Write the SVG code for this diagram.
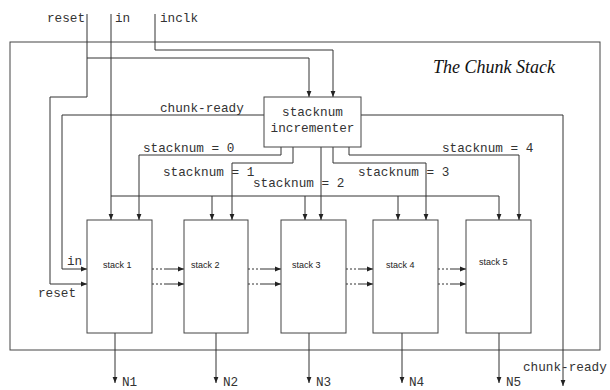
<svg xmlns="http://www.w3.org/2000/svg" width="610" height="390" viewBox="0 0 610 390">
<style>
.w{fill:none;stroke:#333;stroke-width:1}
.a{fill:none;stroke:#333;stroke-width:1;marker-end:url(#ah)}
.d{fill:none;stroke:#333;stroke-width:1;stroke-dasharray:2 2}
.box{fill:#fff;stroke:#444;stroke-width:1}
.m{font-family:"Liberation Mono",monospace;font-size:12.7px;fill:#333}
.s{font-family:"Liberation Sans",Arial,sans-serif;font-size:9px;fill:#222}
.t{font-family:"Liberation Serif",serif;font-style:italic;font-size:18px;fill:#111}
</style>
<defs>
<marker id="ah" markerUnits="userSpaceOnUse" markerWidth="6" markerHeight="6" viewBox="0 0 6 6" refX="6" refY="3" orient="auto">
<path d="M0,0.6 L6,3 L0,5.4 Z" fill="#222"/>
</marker>
</defs>
<rect width="610" height="390" fill="#fff"/>
<g id="frame">
<rect x="10" y="42" width="590" height="308" class="box"/>
<text x="433" y="73" class="t">The Chunk Stack</text>
</g>
<g id="connectors">
<path class="w" d="M87,14 V97 H50 V284"/>
<path class="a" d="M50,284 H87"/>
<path class="a" d="M87,58 H309 V97"/>
<path class="a" d="M155,14 V50 H333 V97"/>
<path class="a" d="M111,14 V220"/>
<path class="w" d="M111,196 H499"/>
<path class="a" d="M212,196 V220"/>
<path class="a" d="M305,196 V220"/>
<path class="a" d="M398,196 V220"/>
<path class="a" d="M499,196 V220"/>
<path class="a" d="M264,115 H62 V269 H87"/>
<path class="a" d="M361,115 H563 V386"/>
<path class="a" d="M281,147 V155 H139 V220"/>
<path class="a" d="M293,147 V163 H232 V220"/>
<path class="a" d="M321,147 V220"/>
<path class="a" d="M333,147 V163 H426 V220"/>
<path class="a" d="M349,147 V155 H519 V220"/>
<path class="d" d="M152,269 H166 M152,284 H166 M248,269 H262 M248,284 H262 M346,269 H360 M346,284 H360 M438,269 H452 M438,284 H452"/>
<path class="a" d="M166,269 H184"/>
<path class="a" d="M166,284 H184"/>
<path class="a" d="M262,269 H281"/>
<path class="a" d="M262,284 H281"/>
<path class="a" d="M360,269 H373"/>
<path class="a" d="M360,284 H373"/>
<path class="a" d="M452,269 H466"/>
<path class="a" d="M452,284 H466"/>
<path class="a" d="M115,333 V383"/>
<path class="a" d="M216,333 V383"/>
<path class="a" d="M309,333 V383"/>
<path class="a" d="M402,333 V383"/>
<path class="a" d="M499,333 V383"/>
</g>
<g id="labels">
<text x="47" y="22" class="m">reset</text>
<text x="115" y="22" class="m">in</text>
<text x="160" y="22" class="m">inclk</text>
<text x="160" y="112" class="m">chunk-ready</text>
<text x="143" y="152" class="m">stacknum = 0</text>
<text x="163" y="176" class="m">stacknum = 1</text>
<text x="253" y="187" class="m">stacknum = 2</text>
<text x="358" y="176" class="m">stacknum = 3</text>
<text x="442" y="152" class="m">stacknum = 4</text>
<text x="67" y="265" class="m">in</text>
<text x="38" y="297" class="m">reset</text>
<text x="523" y="371" class="m">chunk-ready</text>
<text x="122" y="386" class="m">N1</text>
<text x="223" y="386" class="m">N2</text>
<text x="316" y="386" class="m">N3</text>
<text x="409" y="386" class="m">N4</text>
<text x="506" y="386" class="m">N5</text>
</g>
<g id="incrementer">
<rect x="264" y="97" width="97" height="50" class="box"/>
<text x="312.5" y="116" class="m" text-anchor="middle">stacknum</text>
<text x="312.5" y="132" class="m" text-anchor="middle">incrementer</text>
</g>
<g id="stack1"><rect x="87" y="220" width="65" height="113" class="box"/><text x="103" y="268" class="s">stack 1</text></g>
<g id="stack2"><rect x="184" y="220" width="64" height="113" class="box"/><text x="191" y="268" class="s">stack 2</text></g>
<g id="stack3"><rect x="281" y="220" width="65" height="113" class="box"/><text x="292" y="268" class="s">stack 3</text></g>
<g id="stack4"><rect x="373" y="220" width="65" height="113" class="box"/><text x="386" y="268" class="s">stack 4</text></g>
<g id="stack5"><rect x="466" y="220" width="65" height="113" class="box"/><text x="479" y="265" class="s">stack 5</text></g>
</svg>
